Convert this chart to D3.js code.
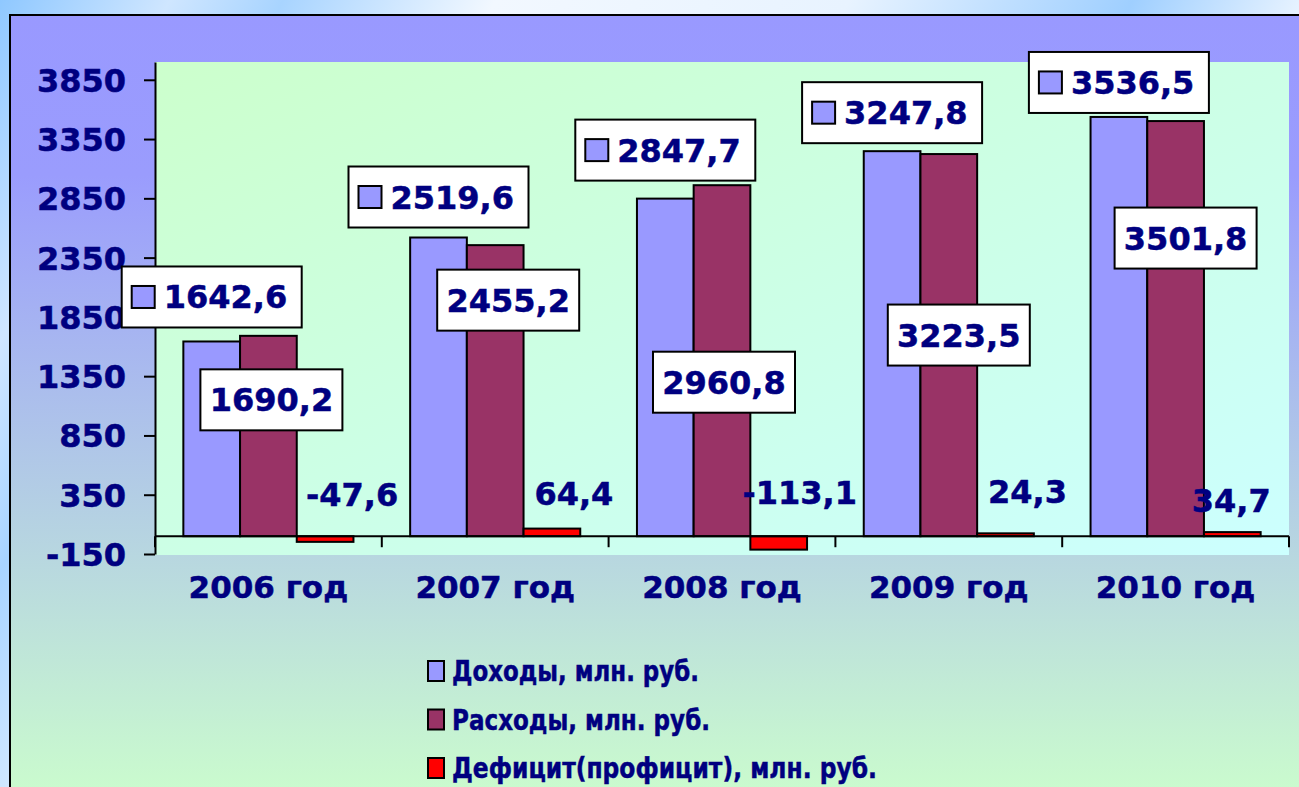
<!DOCTYPE html>
<html>
<head>
<meta charset="utf-8">
<script src="https://cdn.jsdelivr.net/npm/d3@7"></script>
<style>
  html, body { margin: 0; padding: 0; overflow: hidden; }
  svg { display: block; }
  text { font-family: "DejaVu Sans", Verdana, sans-serif; font-weight: bold; fill: #000080; stroke: #000080; stroke-width: 0.5px; }
</style>
</head>
<body>
<svg id="chart"></svg>
<script>
// data
var years = ["2006 год", "2007 год", "2008 год", "2009 год", "2010 год"];
var seriesNames = ["Доходы, млн. руб.", "Расходы, млн. руб.", "Дефицит(профицит), млн. руб."];
var incomes = [1642.6, 2519.6, 2847.7, 3247.8, 3536.5];
var expenses = [1690.2, 2455.2, 2960.8, 3223.5, 3501.8];
var balance = [-47.6, 64.4, -113.1, 24.3, 34.7];
var yTicks = [-150, 350, 850, 1350, 1850, 2350, 2850, 3350, 3850];

// hand placed label offsets (layout only)
var incGap = [14, 10, 18, 8, 4];            // box bottom above bar top
var expDx = [3, 13, 2, 10, 10];             // box centre from bar centre
var expDy = [64, 55, 197, 181, 117];        // box centre below bar top
var balDx = [27, 22, 21, 22, -1];
var balDy = [-30, -31, -32, -33, -24];      // baseline from zero line

var width = 1299,
    height = 787,
    colors = ["#9999FF", "#993366", "#FF0000"],
    navy = "#000080";

var plot = {left: 155, right: 1289, top: 62, bottom: 554};

var svg = d3.select("#chart")
    .attr("width", width)
    .attr("height", height);

var defs = svg.append("defs");

var bgGrad = defs.append("linearGradient")
    .attr("id", "bgGrad")
    .attr("x1", "0").attr("y1", "0").attr("x2", "1").attr("y2", "0.3");
[["0", "#8fc8ff"], ["0.12", "#cfe6ff"], ["0.2", "#a8d4ff"], ["0.35", "#f2f8ff"],
 ["0.6", "#e8f3ff"], ["0.8", "#9fcfff"], ["0.92", "#e6f2ff"], ["1", "#ffffff"]].forEach(function (s) {
    bgGrad.append("stop").attr("offset", s[0]).attr("stop-color", s[1]);
});

var areaGrad = defs.append("linearGradient")
    .attr("id", "areaGrad")
    .attr("x1", "0").attr("y1", "0").attr("x2", "0").attr("y2", "1");
areaGrad.append("stop").attr("offset", "0").attr("stop-color", "#9999FF");
areaGrad.append("stop").attr("offset", "0.2").attr("stop-color", "#9a9cfd");
areaGrad.append("stop").attr("offset", "1").attr("stop-color", "#CCFFCC");

var plotGrad = defs.append("linearGradient")
    .attr("id", "plotGrad")
    .attr("x1", "0").attr("y1", "0").attr("x2", "1").attr("y2", "1");
plotGrad.append("stop").attr("offset", "0").attr("stop-color", "#CCFFCC");
plotGrad.append("stop").attr("offset", "1").attr("stop-color", "#CCFFFF");

svg.append("rect")
    .attr("width", width)
    .attr("height", height)
    .attr("fill", "url(#bgGrad)");

// chart area
svg.append("rect")
    .attr("x", 10).attr("y", 15)
    .attr("width", 1300).attr("height", 800)
    .attr("fill", "url(#areaGrad)")
    .attr("stroke", "#000")
    .attr("stroke-width", 2);

svg.append("rect")
    .attr("x", plot.left).attr("y", plot.top)
    .attr("width", plot.right - plot.left)
    .attr("height", plot.bottom - plot.top + 1)
    .attr("fill", "url(#plotGrad)");

// scales
var y = d3.scaleLinear()
    .domain([-150, 4000])
    .range([plot.bottom, plot.top]);

var x0 = d3.scaleBand()
    .domain(years)
    .range([plot.left, plot.right])
    .padding(0);

var x1 = d3.scaleBand()
    .domain([0, 1, 2])
    .range([0, x0.bandwidth()])
    .paddingInner(0)
    .paddingOuter(0.5);

// y axis
var yAxis = svg.append("g")
    .attr("transform", "translate(" + plot.left + ",0)")
    .call(d3.axisLeft(y)
        .tickValues(yTicks)
        .tickFormat(function (d) { return String(d); })
        .tickSize(11)
        .tickSizeOuter(0)
        .tickPadding(18));

yAxis.attr("font-family", null);
yAxis.select(".domain").attr("stroke", "#000").attr("stroke-width", 2);
yAxis.selectAll(".tick line").attr("stroke", "#000").attr("stroke-width", 2);
yAxis.selectAll(".tick text")
    .attr("fill", navy)
    .style("font-size", "32px")
    .attr("dy", "0.36em");

// bars
var series = [incomes, expenses, balance];

series.forEach(function (vals, si) {
    svg.append("g")
        .selectAll("rect")
        .data(vals)
        .enter()
        .append("rect")
        .attr("x", function (d, i) { return x0(years[i]) + x1(si); })
        .attr("y", function (d) { return y(Math.max(0, d)); })
        .attr("width", x1.bandwidth())
        .attr("height", function (d) { return Math.abs(y(d) - y(0)); })
        .attr("fill", colors[si])
        .attr("stroke", "#000")
        .attr("stroke-width", 2);
});

// x axis line and category ticks
svg.append("line")
    .attr("x1", plot.left).attr("x2", plot.right)
    .attr("y1", y(0)).attr("y2", y(0))
    .attr("stroke", "#000")
    .attr("stroke-width", 2);

var bounds = years.map(function (d) { return x0(d); }).concat([plot.right]);

svg.append("g")
    .selectAll("line")
    .data(bounds)
    .enter()
    .append("line")
    .attr("x1", function (d) { return d; })
    .attr("x2", function (d) { return d; })
    .attr("y1", y(0))
    .attr("y2", y(0) + 11)
    .attr("stroke", "#000")
    .attr("stroke-width", 2);

svg.append("g")
    .selectAll("text")
    .data(years)
    .enter()
    .append("text")
    .attr("x", function (d) { return x0(d) + x0.bandwidth() / 2; })
    .attr("y", 598)
    .attr("text-anchor", "middle")
    .style("font-size", "31px")
    .text(function (d) { return d; });

function fmt(v) {
    return v.toFixed(1).replace(".", ",");
}

// income labels: box with legend key
incomes.forEach(function (v, i) {
    var cx = x0(years[i]) + x1(0) + x1.bandwidth() / 2;
    var bottom = y(v) - incGap[i];
    var bw = 180,
        bh = 61,
        bx = cx - bw / 2,
        by = bottom - bh;
    var g = svg.append("g");
    g.append("rect")
        .attr("x", bx).attr("y", by)
        .attr("width", bw).attr("height", bh)
        .attr("fill", "#fff")
        .attr("stroke", "#000")
        .attr("stroke-width", 2);
    g.append("rect")
        .attr("x", bx + 10).attr("y", by + bh / 2 - 11)
        .attr("width", 23).attr("height", 22)
        .attr("fill", colors[0])
        .attr("stroke", "#000")
        .attr("stroke-width", 2);
    g.append("text")
        .attr("x", bx + 42)
        .attr("y", by + bh / 2 + 11.5)
        .style("font-size", "32px")
        .text(fmt(v));
});

// expense labels: plain box
expenses.forEach(function (v, i) {
    var cx = x0(years[i]) + x1(1) + x1.bandwidth() / 2 + expDx[i];
    var cy = y(v) + expDy[i];
    var bw = 142,
        bh = 61;
    var g = svg.append("g");
    g.append("rect")
        .attr("x", cx - bw / 2).attr("y", cy - bh / 2)
        .attr("width", bw).attr("height", bh)
        .attr("fill", "#fff")
        .attr("stroke", "#000")
        .attr("stroke-width", 2);
    g.append("text")
        .attr("x", cx)
        .attr("y", cy + 11.5)
        .attr("text-anchor", "middle")
        .style("font-size", "32px")
        .text(fmt(v));
});

// balance labels
svg.append("g")
    .selectAll("text")
    .data(balance)
    .enter()
    .append("text")
    .attr("x", function (d, i) { return x0(years[i]) + x1(2) + x1.bandwidth() / 2 + balDx[i]; })
    .attr("y", function (d, i) { return y(0) + balDy[i]; })
    .attr("text-anchor", "middle")
    .style("font-size", "32px")
    .text(fmt);

// legend
var legendW = [247, 258, 425];

var legend = svg.append("g")
    .selectAll("g")
    .data(seriesNames)
    .enter()
    .append("g")
    .attr("transform", function (d, i) { return "translate(428," + (661 + i * 48.5) + ")"; });

legend.append("rect")
    .attr("width", 16)
    .attr("height", 20)
    .attr("fill", function (d, i) { return colors[i]; })
    .attr("stroke", "#000")
    .attr("stroke-width", 2);

legend.append("text")
    .attr("x", 24)
    .attr("y", 20)
    .attr("textLength", function (d, i) { return legendW[i]; })
    .attr("lengthAdjust", "spacingAndGlyphs")
    .style("font-size", "28px")
    .text(function (d) { return d; });
</script>
</body>
</html>
